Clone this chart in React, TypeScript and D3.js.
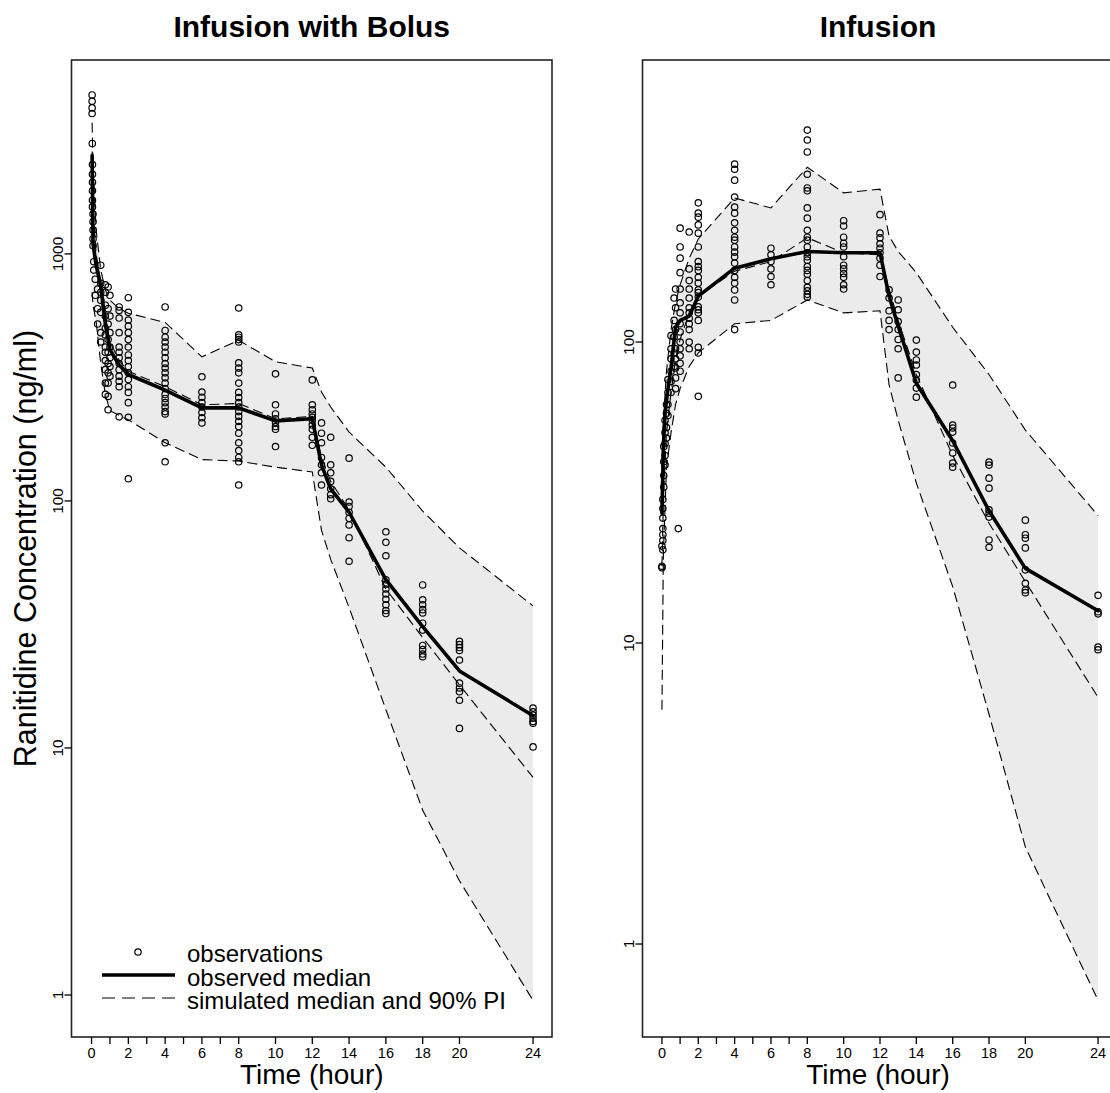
import React from 'react';
import * as d3 from 'd3';

const W = 1110;
const H = 1093;
const FONT = '"Liberation Sans", Arial, Helvetica, sans-serif';

// ---------- Panel 1: Infusion with Bolus ----------
const bolusSimTimes = [0.03, 0.08, 0.25, 0.5, 0.75, 1, 1.5, 2, 4, 6, 8, 10, 12, 12.5, 13, 14, 16, 18, 20, 24];
const bolusSimMedian = [2600, 1500, 1000, 760, 560, 440, 370, 335, 290, 245, 248, 215, 220, 150, 120, 92, 44, 28, 18, 7.6];
const bolusSimLower = [700, 620, 530, 360, 270, 232, 222, 213, 172, 147, 145, 137, 131, 76, 58, 37, 14.3, 5.6, 2.9, 0.95];
const bolusSimUpper = [3400, 2300, 1250, 860, 715, 650, 600, 575, 528, 383, 447, 366, 345, 276, 240, 190, 137, 91, 64.6, 37.6];

const bolusMedTimes = [0.03, 0.08, 0.25, 0.5, 0.75, 1, 1.5, 2, 4, 6, 8, 10, 12, 12.5, 13, 14, 16, 18, 20, 24];
const bolusObsMedian = [2500, 1100, 900, 740, 520, 410, 355, 325, 281, 238, 238, 211, 215, 140, 112, 90, 48, 31, 20.5, 13.5];

const bolusObs: [number, number[]][] = [
  [0.03, [4400, 4150, 3900, 3700]],
  [0.04, [2800]],
  [0.05, [2300, 2100, 1950, 1800, 1650, 1550]],
  [0.08, [1450, 1350, 1250, 1150, 1080]],
  [0.12, [930, 860]],
  [0.2, [790, 680]],
  [0.33, [720, 600, 520]],
  [0.5, [900, 760, 700, 650, 580, 480, 440]],
  [0.75, [750, 700, 620, 560, 500, 470, 420, 400, 370, 340, 300, 270]],
  [0.9, [735, 600, 520, 450, 400, 360, 330, 300, 265, 234]],
  [1.0, [680, 560, 480, 420, 380, 350, 320]],
  [1.5, [610, 590, 550, 480, 420, 400, 380, 360, 340, 320, 305, 290, 219]],
  [2, [665, 580, 540, 510, 480, 450, 420, 390, 370, 350, 330, 310, 290, 275, 250, 218, 123]],
  [4, [610, 490, 460, 440, 420, 400, 380, 360, 345, 330, 315, 300, 285, 270, 260, 250, 240, 230, 225, 172, 144]],
  [6, [318, 276, 263, 250, 240, 228, 217, 207]],
  [8, [604, 470, 460, 450, 440, 362, 345, 330, 300, 275, 262, 250, 240, 230, 220, 210, 200, 188, 172, 160, 150, 144, 116]],
  [10, [327, 245, 225, 215, 208, 200, 195, 166]],
  [12, [309, 245, 234, 225, 218, 212, 203, 195, 181, 168]],
  [12.5, [207, 188, 172, 150, 140, 130, 116]],
  [13, [181, 140, 130, 120, 112, 106, 102]],
  [14, [149, 99, 95, 90, 85, 80, 71, 57]],
  [16, [75, 68, 60, 48, 46, 44, 42, 40, 38, 36, 35]],
  [18, [45.7, 39.8, 38, 36.3, 35.2, 32, 30, 26, 25, 24, 23.4]],
  [20, [27, 26.2, 25.5, 24.8, 22.7, 18.3, 17.5, 16.9, 15.6, 12.0]],
  [24, [14.5, 14.0, 13.6, 13.2, 12.8, 12.6, 10.1]],
];

// ---------- Panel 2: Infusion ----------
const infSimTimes = [0, 0.08, 0.25, 0.5, 0.75, 1, 1.5, 2, 4, 6, 8, 10, 12, 12.5, 13, 14, 16, 18, 20, 24];
const infSimMedian = [18, 30, 50, 68, 88, 102, 125, 142, 172, 185, 222, 198, 195, 150, 118, 78, 42, 25, 16, 6.6];
const infSimLower = [6, 20, 38, 50, 62, 70, 83, 92, 115, 118, 138, 125, 127, 72, 55, 34, 15.4, 5.8, 2.1, 0.65];
const infSimUpper = [35, 55, 80, 110, 135, 155, 190, 220, 301, 279, 381, 313, 322, 225, 200, 170, 112, 78, 51, 26.5];

const infMedTimes = [0, 0.08, 0.17, 0.33, 0.5, 0.75, 1, 1.5, 2, 4, 6, 8, 10, 12, 12.5, 13, 14, 16, 18, 20, 24];
const infObsMedian = [27, 45, 58, 70, 82, 112, 118, 122, 142, 176, 189, 200, 198, 198, 142, 113, 73, 47, 27.5, 17.7, 12.8];

const infObs: [number, number[]][] = [
  [0.0, [21, 18, 17.8]],
  [0.05, [30, 28, 26, 24, 22.9, 21.9, 20.4]],
  [0.1, [45, 40, 36, 33]],
  [0.17, [55, 50, 46, 42, 39]],
  [0.25, [62, 58, 52, 48]],
  [0.33, [75, 68, 62, 57]],
  [0.5, [105, 95, 88, 80, 74, 68]],
  [0.67, [140, 118, 104, 92, 83]],
  [0.75, [150, 130, 110, 95, 88, 82, 76, 70]],
  [0.9, [24]],
  [1, [239, 207, 190, 170, 150, 135, 125, 115, 108, 100, 95, 90, 85, 80]],
  [1.5, [232, 175, 160, 150, 140, 130, 125, 120, 115, 110, 100, 95]],
  [2, [290, 268, 260, 245, 230, 207, 185, 178, 173, 164, 157, 149, 146, 141, 131, 128, 125, 118, 96, 92, 66]],
  [4, [390, 375, 345, 303, 281, 268, 249, 235, 223, 218, 207, 199, 192, 183, 173, 164, 157, 149, 138, 110]],
  [6, [205, 195, 185, 175, 165, 155]],
  [8, [506, 469, 428, 361, 325, 318, 279, 258, 235, 223, 218, 207, 198, 192, 187, 178, 173, 168, 160, 152, 148, 144, 141]],
  [10, [253, 243, 223, 213, 207, 192, 180, 175, 169, 164, 155, 150]],
  [12, [265, 230, 222, 212, 205, 198, 190, 180, 165]],
  [12.5, [149, 140, 127, 118, 110]],
  [13, [138, 128, 117, 110, 102, 95, 76]],
  [14, [101.5, 92.6, 87.2, 83.9, 78, 74.8, 70.3, 65.6]],
  [16, [72, 53, 51.8, 50.2, 46.2, 42.8, 39.6, 38.4]],
  [18, [39.9, 39.0, 35.3, 32.7, 27.7, 27.0, 26.2, 22.0, 20.8]],
  [20, [25.6, 22.9, 22.3, 20.7, 17.5, 15.8, 15.0, 14.7]],
  [24, [14.4, 12.7, 12.5, 9.7, 9.5]],
];

// ---------- axes ----------
const xTicks = [0, 1, 2, 3, 4, 5, 6, 7, 8, 10, 12, 14, 16, 18, 20, 24];
const xTickLabels = [0, 2, 4, 6, 8, 10, 12, 14, 16, 18, 20, 24];
const bolusYTicks = [1, 10, 100, 1000];
const infYTicks = [1, 10, 100];

const legendLabels = ['observations', 'observed median', 'simulated median and 90% PI'];

type PanelProps = {
  title: string;
  left: number;
  right: number;
  xDomain: [number, number];
  yDomain: [number, number];
  simTimes: number[];
  simMedian: number[];
  simLower: number[];
  simUpper: number[];
  medTimes: number[];
  obsMedian: number[];
  obs: [number, number[]][];
  yTicks: number[];
  yTitle?: string;
  legend?: boolean;
};

const TOP = 60;
const BOTTOM = 1037;

function Panel(p: PanelProps) {
  const x = d3.scaleLinear().domain(p.xDomain).range([p.left, p.right]);
  const y = d3.scaleLog().domain(p.yDomain).range([BOTTOM, TOP]);
  const cx = (p.left + p.right) / 2;
  const cy = (TOP + BOTTOM) / 2;

  const band = d3
    .area<number>()
    .x((_, i) => x(p.simTimes[i]))
    .y0((_, i) => y(p.simLower[i]))
    .y1((_, i) => y(p.simUpper[i]))(p.simTimes) as string;
  const lineOf = (ts: number[], vs: number[]) =>
    d3
      .line<number>()
      .x((_, i) => x(ts[i]))
      .y((v) => y(v))(vs) as string;

  const dash = '10,5';
  const points: { t: number; v: number }[] = [];
  p.obs.forEach(([t, vs]) => vs.forEach((v) => points.push({ t, v })));

  return (
    <g>
      <text x={cx} y={37} textAnchor="middle" fontFamily={FONT} fontWeight="bold" fontSize={30}>
        {p.title}
      </text>
      <path d={band} fill="#ebebeb" stroke="none" />
      <path d={lineOf(p.simTimes, p.simLower)} fill="none" stroke="#000" strokeWidth={1.1} strokeDasharray={dash} />
      <path d={lineOf(p.simTimes, p.simUpper)} fill="none" stroke="#000" strokeWidth={1.1} strokeDasharray={dash} />
      <path d={lineOf(p.simTimes, p.simMedian)} fill="none" stroke="#000" strokeWidth={1.1} strokeDasharray={dash} />
      {points.map((d, i) => (
        <circle key={i} cx={x(d.t)} cy={y(d.v)} r={3.2} fill="none" stroke="#000" strokeWidth={1.2} />
      ))}
      <path
        d={lineOf(p.medTimes, p.obsMedian)}
        fill="none"
        stroke="#000"
        strokeWidth={3.6}
        strokeLinejoin="round"
        strokeLinecap="round"
      />
      <rect
        x={p.left}
        y={TOP}
        width={p.right - p.left}
        height={BOTTOM - TOP}
        fill="none"
        stroke="#222"
        strokeWidth={1.6}
      />
      {xTicks.map((t) => (
        <line key={'xt' + t} x1={x(t)} x2={x(t)} y1={BOTTOM} y2={BOTTOM + 7} stroke="#000" strokeWidth={1.3} />
      ))}
      {xTickLabels.map((t) => (
        <text key={'xl' + t} x={x(t)} y={1058} textAnchor="middle" fontFamily={FONT} fontSize={14.5}>
          {t}
        </text>
      ))}
      <text x={cx} y={1084} textAnchor="middle" fontFamily={FONT} fontSize={28}>
        Time (hour)
      </text>
      {p.yTicks.map((v) => (
        <g key={'yt' + v}>
          <line x1={p.left - 7} x2={p.left} y1={y(v)} y2={y(v)} stroke="#000" strokeWidth={1.3} />
          <text
            transform={`translate(${p.left - 9},${y(v)}) rotate(-90)`}
            textAnchor="middle"
            fontFamily={FONT}
            fontSize={15.5}
          >
            {v}
          </text>
        </g>
      ))}
      {p.yTitle && (
        <text
          transform={`translate(36,${cy}) rotate(-90)`}
          textAnchor="middle"
          fontFamily={FONT}
          fontSize={30.5}
        >
          {p.yTitle}
        </text>
      )}
      {p.legend && (
        <g fontFamily={FONT} fontSize={24}>
          <circle cx={138} cy={952} r={3.2} fill="none" stroke="#000" strokeWidth={1.2} />
          <line x1={102} x2={175} y1={975} y2={975} stroke="#000" strokeWidth={3.6} />
          <line x1={102} x2={175} y1={998} y2={998} stroke="#000" strokeWidth={1.1} strokeDasharray="13,7" />
          {legendLabels.map((s, i) => (
            <text key={s} x={187} y={962 + i * 23.5}>
              {s}
            </text>
          ))}
        </g>
      )}
    </g>
  );
}

export default function App() {
  return (
    <svg
      width={W}
      height={H}
      style={{ position: 'absolute', left: 0, top: 0, display: 'block', background: '#fff' }}
    >
      <rect x={0} y={0} width={W} height={H} fill="#fff" />
      <Panel
        title="Infusion with Bolus"
        left={71.5}
        right={552}
        xDomain={[-1.09, 25.03]}
        yDomain={[0.676, 6095]}
        simTimes={bolusSimTimes}
        simMedian={bolusSimMedian}
        simLower={bolusSimLower}
        simUpper={bolusSimUpper}
        medTimes={bolusMedTimes}
        obsMedian={bolusObsMedian}
        obs={bolusObs}
        yTicks={bolusYTicks}
        yTitle="Ranitidine Concentration (ng/ml)"
        legend
      />
      <Panel
        title="Infusion"
        left={642.5}
        right={1113.5}
        xDomain={[-1.07, 24.85]}
        yDomain={[0.491, 865]}
        simTimes={infSimTimes}
        simMedian={infSimMedian}
        simLower={infSimLower}
        simUpper={infSimUpper}
        medTimes={infMedTimes}
        obsMedian={infObsMedian}
        obs={infObs}
        yTicks={infYTicks}
      />
    </svg>
  );
}
